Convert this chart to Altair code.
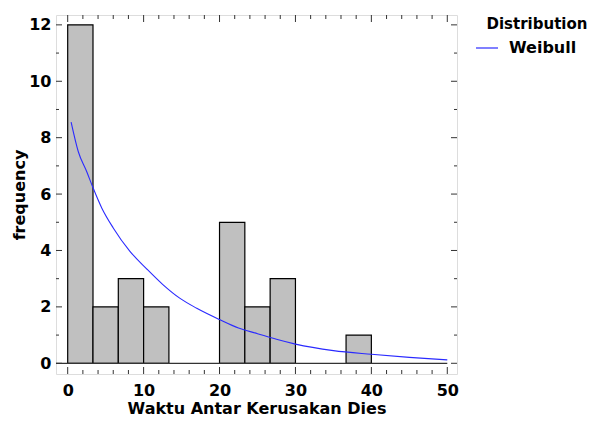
import altair as alt
import pandas as pd

# Histogram bins (width 10/3) and counts
bin_start = [0, 3.333, 6.667, 10, 13.333, 16.667, 20, 23.333, 26.667, 30, 33.333, 36.667]
bin_end = [3.333, 6.667, 10, 13.333, 16.667, 20, 23.333, 26.667, 30, 33.333, 36.667, 40]
counts = [12, 2, 3, 2, 0, 0, 5, 2, 3, 0, 0, 1]

# Fitted Weibull curve
curve_x = [0.45, 1.4, 2.5, 3.3, 4.5, 6, 8.2, 10.4, 12.5, 14.8, 17, 20, 22.5, 25, 27.5, 30, 35, 40, 45, 50]
curve_y = [8.55, 7.5, 6.8, 6.25, 5.5, 4.8, 3.97, 3.35, 2.8, 2.3, 1.95, 1.55, 1.25, 1.05, 0.85, 0.68, 0.45, 0.32, 0.21, 0.12]

x_major = [0, 10, 20, 30, 40, 50]
x_minor = [v for v in range(2, 50, 2) if v % 10 != 0]
y_major = [0, 2, 4, 6, 8, 10, 12]
y_minor = [1, 3, 5, 7, 9, 11]

X_DOMAIN = [-1.54, 51.28]
Y_DOMAIN = [-0.38, 12.35]
W, H = 401, 359
FONT = "DejaVu Sans"
FS = 16

bars_df = pd.DataFrame({"start": bin_start, "end": bin_end, "count": counts})
bars_df = bars_df[bars_df["count"] > 0].assign(zero=0)
curve_df = pd.DataFrame({"x": curve_x, "y": curve_y, "series": "Weibull"})
base_df = pd.DataFrame({"x0": [X_DOMAIN[0]], "x1": [50], "y": [0]})

xs = alt.Scale(domain=X_DOMAIN, nice=False, zero=False)
ys = alt.Scale(domain=Y_DOMAIN, nice=False, zero=False)

xaxis = alt.Axis(values=x_major, ticks=False, domain=False, grid=False,
                 labelFont=FONT, labelFontSize=FS, labelFontWeight="bold", labelColor="black",
                 labelPadding=8, title="Waktu Antar Kerusakan Dies", titleFont=FONT,
                 titleFontSize=FS, titleFontWeight="bold", titleColor="black",
                 titleY=39, titleBaseline="alphabetic")
yaxis = alt.Axis(values=y_major, ticks=False, domain=False, grid=False,
                 labelFont=FONT, labelFontSize=FS, labelFontWeight="bold", labelColor="black",
                 labelPadding=5, title="frequency", titleFont=FONT,
                 titleFontSize=FS, titleFontWeight="bold", titleColor="black", titlePadding=1)

bars = alt.Chart(bars_df).mark_rect(fill="#c0c0c0", stroke="black", strokeWidth=1.2).encode(
    x=alt.X("start:Q", scale=xs, axis=xaxis),
    x2="end:Q",
    y=alt.Y("count:Q", scale=ys, axis=yaxis),
    y2="zero:Q",
)

baseline = alt.Chart(base_df).mark_rule(color="#333", strokeWidth=1.2).encode(
    x=alt.X("x0:Q", scale=xs), x2="x1:Q", y=alt.Y("y:Q", scale=ys)
)

curve = alt.Chart(curve_df).mark_line(strokeWidth=1.1, interpolate="monotone").encode(
    x=alt.X("x:Q", scale=xs),
    y=alt.Y("y:Q", scale=ys),
    color=alt.Color("series:N", scale=alt.Scale(domain=["Weibull"], range=["#2a2aff"]),
                    legend=alt.Legend(title=None, orient="none", legendX=419, legendY=21,
                                      symbolType="stroke", symbolSize=484, symbolStrokeWidth=1.2,
                                      labelFont=FONT, labelFontSize=FS, labelFontWeight="bold",
                                      labelColor="black", labelOffset=10, padding=0)),
)

def xticks(vals, length):
    df = pd.DataFrame({"v": vals})
    b = alt.Chart(df).mark_rule(color="#333", strokeWidth=1).encode(
        x=alt.X("v:Q", scale=xs), y=alt.value(H), y2=alt.value(H - length))
    t = alt.Chart(df).mark_rule(color="#333", strokeWidth=1).encode(
        x=alt.X("v:Q", scale=xs), y=alt.value(0), y2=alt.value(length))
    return b + t

def yticks(vals, length):
    df = pd.DataFrame({"v": vals})
    l = alt.Chart(df).mark_rule(color="#333", strokeWidth=1).encode(
        y=alt.Y("v:Q", scale=ys), x=alt.value(0), x2=alt.value(length))
    r = alt.Chart(df).mark_rule(color="#333", strokeWidth=1).encode(
        y=alt.Y("v:Q", scale=ys), x=alt.value(W), x2=alt.value(W - length))
    return l + r

legend_title = alt.Chart(pd.DataFrame({"t": ["Distribution"]})).mark_text(
    font=FONT, fontSize=15, fontWeight="bold", color="black", align="center", baseline="middle"
).encode(text="t:N", x=alt.value(481), y=alt.value(9))

chart = alt.layer(
    bars, baseline, curve,
    xticks(x_major, 7), xticks(x_minor, 4), yticks(y_major, 6), yticks(y_minor, 3),
    legend_title,
).properties(
    width=W, height=H,
    autosize=alt.AutoSizeParams(type="none"),
    padding={"left": 48, "top": 7, "right": 132, "bottom": 44},
).configure_view(stroke="#333", strokeWidth=1.5).configure(background="white")

chart.save("out.html", embed_options={"renderer": "svg", "actions": False})
